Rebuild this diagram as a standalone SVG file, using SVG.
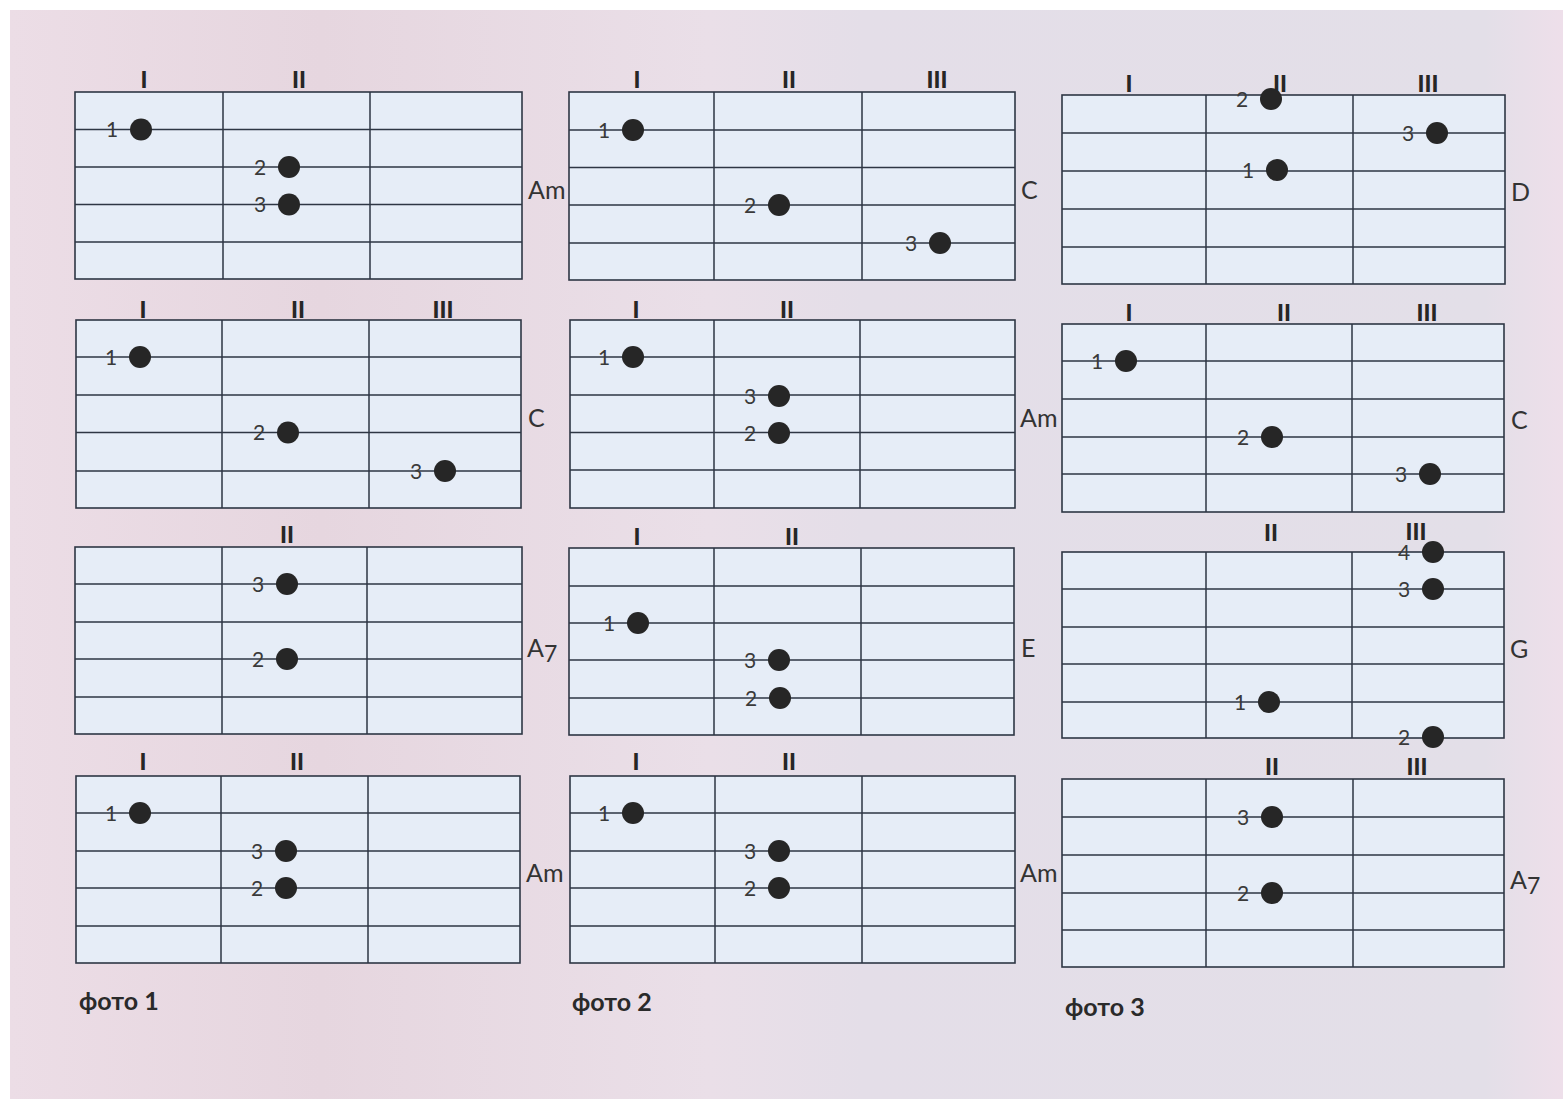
<svg xmlns="http://www.w3.org/2000/svg" width="1563" height="1099" viewBox="0 0 1563 1099">
<defs>
<linearGradient id="page" x1="0" y1="0" x2="1" y2="0">
<stop offset="0" stop-color="#ecdde6"/>
<stop offset="0.2" stop-color="#e6d6df"/>
<stop offset="0.45" stop-color="#eadfe8"/>
<stop offset="0.55" stop-color="#e4dee8"/>
<stop offset="0.95" stop-color="#e3dfe8"/>
<stop offset="1" stop-color="#eedfea"/>
</linearGradient>
<style>
.box{fill:#e6edf7;stroke:#2e3644;stroke-width:1.6}
.ln{stroke:#2e3644;stroke-width:1.5;fill:none}
.dot{fill:#262626}
.fn{font-family:Lato,"Open Sans",sans-serif;font-size:21px;fill:#3a3a3a;text-anchor:middle}
.rn{font-family:Lato,"Open Sans",sans-serif;font-size:23px;font-weight:900;fill:#262626;text-anchor:middle}
.ch{font-family:Lato,"Open Sans",sans-serif;font-size:25px;fill:#333}
.cap{font-family:Lato,"Open Sans",sans-serif;font-size:25px;font-weight:bold;fill:#2a2a2a}
</style>
</defs>
<rect x="0" y="0" width="1563" height="1099" fill="#ffffff"/>
<rect x="10" y="10" width="1553" height="1089" fill="url(#page)"/>

<!-- Row 1 -->
<g id="chord-r1c1">
<rect class="box" x="75" y="92" width="447" height="187"/>
<path class="ln" d="M75 129.5H522M75 167H522M75 204.5H522M75 242H522M223 92V279M370 92V279"/>
<text class="rn" x="144" y="88">I</text><text class="rn" x="299" y="88">II</text>
<circle class="dot" cx="141" cy="129.5" r="11"/><text class="fn" x="112" y="137">1</text>
<circle class="dot" cx="289" cy="167" r="11"/><text class="fn" x="260" y="174.5">2</text>
<circle class="dot" cx="289" cy="204.5" r="11"/><text class="fn" x="260" y="212">3</text>
<text class="ch" x="528" y="199">Am</text>
</g>
<g id="chord-r1c2">
<rect class="box" x="569" y="92" width="446" height="188"/>
<path class="ln" d="M569 130H1015M569 167.5H1015M569 205H1015M569 243H1015M714 92V280M862 92V280"/>
<text class="rn" x="637" y="88">I</text><text class="rn" x="789" y="88">II</text><text class="rn" x="937" y="88">III</text>
<circle class="dot" cx="633" cy="130" r="11"/><text class="fn" x="604" y="137.5">1</text>
<circle class="dot" cx="779" cy="205" r="11"/><text class="fn" x="750" y="212.5">2</text>
<circle class="dot" cx="940" cy="243" r="11"/><text class="fn" x="911" y="250.5">3</text>
<text class="ch" x="1021" y="199">C</text>
</g>
<g id="chord-r1c3">
<rect class="box" x="1062" y="95" width="443" height="189"/>
<path class="ln" d="M1062 133H1505M1062 171H1505M1062 209H1505M1062 247H1505M1206 95V284M1353 95V284"/>
<text class="rn" x="1129" y="92">I</text><text class="rn" x="1280" y="92">II</text><text class="rn" x="1428" y="92">III</text>
<circle class="dot" cx="1271" cy="99" r="11"/><text class="fn" x="1242" y="106.5">2</text>
<circle class="dot" cx="1437" cy="133" r="11"/><text class="fn" x="1408" y="140.5">3</text>
<circle class="dot" cx="1277" cy="170" r="11"/><text class="fn" x="1248" y="177.5">1</text>
<text class="ch" x="1511" y="201">D</text>
</g>

<!-- Row 2 -->
<g id="chord-r2c1">
<rect class="box" x="76" y="320" width="445" height="188"/>
<path class="ln" d="M76 357H521M76 395H521M76 432.5H521M76 471H521M222 320V508M369 320V508"/>
<text class="rn" x="143" y="318">I</text><text class="rn" x="298" y="318">II</text><text class="rn" x="443" y="318">III</text>
<circle class="dot" cx="140" cy="357" r="11"/><text class="fn" x="111" y="364.5">1</text>
<circle class="dot" cx="288" cy="432.5" r="11"/><text class="fn" x="259" y="440">2</text>
<circle class="dot" cx="445" cy="471" r="11"/><text class="fn" x="416" y="478.5">3</text>
<text class="ch" x="528" y="427">C</text>
</g>
<g id="chord-r2c2">
<rect class="box" x="570" y="320" width="445" height="188"/>
<path class="ln" d="M570 357H1015M570 395H1015M570 432.5H1015M570 470H1015M714 320V508M860 320V508"/>
<text class="rn" x="636" y="318">I</text><text class="rn" x="787" y="318">II</text>
<circle class="dot" cx="633" cy="357" r="11"/><text class="fn" x="604" y="364.5">1</text>
<circle class="dot" cx="779" cy="396" r="11"/><text class="fn" x="750" y="403.5">3</text>
<circle class="dot" cx="779" cy="433" r="11"/><text class="fn" x="750" y="440.5">2</text>
<text class="ch" x="1020" y="427">Am</text>
</g>
<g id="chord-r2c3">
<rect class="box" x="1062" y="324" width="442" height="188"/>
<path class="ln" d="M1062 361H1504M1062 399H1504M1062 437H1504M1062 474H1504M1206 324V512M1352 324V512"/>
<text class="rn" x="1129" y="321">I</text><text class="rn" x="1284" y="321">II</text><text class="rn" x="1427" y="321">III</text>
<circle class="dot" cx="1126" cy="361" r="11"/><text class="fn" x="1097" y="368.5">1</text>
<circle class="dot" cx="1272" cy="437" r="11"/><text class="fn" x="1243" y="444.5">2</text>
<circle class="dot" cx="1430" cy="474" r="11"/><text class="fn" x="1401" y="481.5">3</text>
<text class="ch" x="1511" y="429">C</text>
</g>

<!-- Row 3 -->
<g id="chord-r3c1">
<rect class="box" x="75" y="547" width="447" height="187"/>
<path class="ln" d="M75 584H522M75 622H522M75 659H522M75 697H522M222 547V734M367 547V734"/>
<text class="rn" x="287" y="543">II</text>
<circle class="dot" cx="287" cy="584" r="11"/><text class="fn" x="258" y="591.5">3</text>
<circle class="dot" cx="287" cy="659" r="11"/><text class="fn" x="258" y="666.5">2</text>
<text class="ch" x="527" y="657">A<tspan font-size="23" dy="5">7</tspan></text>
</g>
<g id="chord-r3c2">
<rect class="box" x="569" y="548" width="445" height="187"/>
<path class="ln" d="M569 586H1014M569 623H1014M569 660H1014M569 698H1014M714 548V735M861 548V735"/>
<text class="rn" x="637" y="545">I</text><text class="rn" x="792" y="545">II</text>
<circle class="dot" cx="638" cy="623" r="11"/><text class="fn" x="609" y="630.5">1</text>
<circle class="dot" cx="779" cy="660" r="11"/><text class="fn" x="750" y="667.5">3</text>
<circle class="dot" cx="780" cy="698" r="11"/><text class="fn" x="751" y="705.5">2</text>
<text class="ch" x="1021" y="657">E</text>
</g>
<g id="chord-r3c3">
<rect class="box" x="1062" y="552" width="442" height="186"/>
<path class="ln" d="M1062 589H1504M1062 627H1504M1062 664H1504M1062 702H1504M1206 552V738M1352 552V738"/>
<text class="rn" x="1271" y="541">II</text><text class="rn" x="1416" y="540">III</text>
<circle class="dot" cx="1433" cy="552" r="11"/><text class="fn" x="1404" y="560">4</text>
<circle class="dot" cx="1433" cy="589" r="11"/><text class="fn" x="1404" y="596.5">3</text>
<circle class="dot" cx="1269" cy="702" r="11"/><text class="fn" x="1240" y="709.5">1</text>
<circle class="dot" cx="1433" cy="737" r="11"/><text class="fn" x="1404" y="744.5">2</text>
<text class="ch" x="1510" y="658">G</text>
</g>

<!-- Row 4 -->
<g id="chord-r4c1">
<rect class="box" x="76" y="776" width="444" height="187"/>
<path class="ln" d="M76 813H520M76 851H520M76 888H520M76 926H520M221 776V963M368 776V963"/>
<text class="rn" x="143" y="770">I</text><text class="rn" x="297" y="770">II</text>
<circle class="dot" cx="140" cy="813" r="11"/><text class="fn" x="111" y="820.5">1</text>
<circle class="dot" cx="286" cy="851" r="11"/><text class="fn" x="257" y="858.5">3</text>
<circle class="dot" cx="286" cy="888" r="11"/><text class="fn" x="257" y="895.5">2</text>
<text class="ch" x="526" y="882">Am</text>
</g>
<g id="chord-r4c2">
<rect class="box" x="570" y="776" width="445" height="187"/>
<path class="ln" d="M570 813H1015M570 851H1015M570 888H1015M570 926H1015M715 776V963M862 776V963"/>
<text class="rn" x="636" y="770">I</text><text class="rn" x="789" y="770">II</text>
<circle class="dot" cx="633" cy="813" r="11"/><text class="fn" x="604" y="820.5">1</text>
<circle class="dot" cx="779" cy="851" r="11"/><text class="fn" x="750" y="858.5">3</text>
<circle class="dot" cx="779" cy="888" r="11"/><text class="fn" x="750" y="895.5">2</text>
<text class="ch" x="1020" y="882">Am</text>
</g>
<g id="chord-r4c3">
<rect class="box" x="1062" y="779" width="442" height="188"/>
<path class="ln" d="M1062 817H1504M1062 855H1504M1062 893H1504M1062 930H1504M1206 779V967M1353 779V967"/>
<text class="rn" x="1272" y="775">II</text><text class="rn" x="1417" y="775">III</text>
<circle class="dot" cx="1272" cy="817" r="11"/><text class="fn" x="1243" y="824.5">3</text>
<circle class="dot" cx="1272" cy="893" r="11"/><text class="fn" x="1243" y="900.5">2</text>
<text class="ch" x="1510" y="889">A<tspan font-size="23" dy="5">7</tspan></text>
</g>

<g id="captions">
<text class="cap" x="79" y="1010">фото 1</text>
<text class="cap" x="572" y="1011">фото 2</text>
<text class="cap" x="1065" y="1016">фото 3</text>
</g>
</svg>
